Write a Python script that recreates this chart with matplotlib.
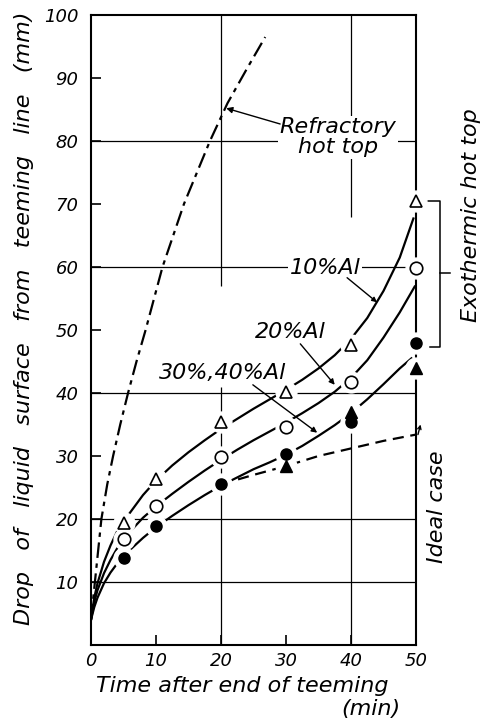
import matplotlib
matplotlib.use("Agg")
import matplotlib.pyplot as plt

plt.rcParams["font.family"] = ["DejaVu Sans"]
plt.rcParams["font.style"] = "italic"

# measured points
times = [5, 10, 20, 30, 40, 50]
al10 = [19.4, 26.3, 35.4, 40.2, 47.6, 70.5]
al20 = [16.8, 22.1, 29.8, 34.6, 41.7, 59.8]
al30 = [13.8, 18.9, 25.5, 30.3, 35.4, 47.9]
times40 = [30, 40, 50]
al40 = [28.4, 37.0, 44.0]

# fitted curves
c10_x = [0, 0.5, 1, 2, 3, 4, 5, 6, 8, 10, 12.5, 15, 17.5, 20, 22.5, 25, 27.5, 30, 32.5, 35, 37.5, 40, 42.5, 45, 47.5, 49.6]
c10_y = [4, 7.5, 9.8, 13.2, 15.8, 18.0, 19.6, 21.0, 23.8, 26.1, 28.5, 30.6, 32.5, 34.3, 35.9, 37.5, 39.0, 40.5, 42.1, 43.9, 46.0, 48.6, 51.9, 56.2, 61.5, 67.7]
c20_x = [0, 0.5, 1, 2, 3, 4, 5, 6, 8, 10, 12.5, 15, 17.5, 20, 22.5, 25, 27.5, 30, 32.5, 35, 37.5, 40, 42.5, 45, 47.5, 49.8]
c20_y = [4, 6.8, 8.7, 11.4, 13.5, 15.3, 16.8, 18.0, 20.2, 22.0, 24.0, 25.9, 27.7, 29.4, 31.0, 32.5, 33.9, 35.3, 36.8, 38.4, 40.2, 42.4, 45.2, 48.8, 52.8, 56.9]
c30_x = [0, 0.5, 1, 2, 3, 4, 5, 6, 8, 10, 12.5, 15, 17.5, 20, 22.5, 25, 27.5, 30, 32.5, 35, 37.5, 40, 42.5, 45, 47.5, 49.3]
c30_y = [4, 6.0, 7.5, 9.8, 11.5, 12.9, 14.0, 15.1, 17.0, 18.7, 20.5, 22.2, 23.8, 25.3, 26.6, 27.9, 29.0, 30.2, 31.6, 33.2, 34.9, 36.8, 39.0, 41.4, 43.9, 45.5]
ideal_x = [20, 25, 30, 35, 40, 45, 50]
ideal_y = [25.5, 27.0, 28.4, 30.0, 31.2, 32.4, 33.4]
refr_x = [0, 0.3, 0.6, 1.0, 1.6, 2.5, 3.4, 4.5, 5.7, 7.0, 8.4, 11.0, 14.3, 18.3, 21.0, 24.0, 26.8]
refr_y = [4, 7, 10, 14, 20, 25.5, 30, 35, 40, 45, 50, 60, 70, 80, 86, 91.5, 96.5]

xticks = [0, 10, 20, 30, 40, 50]
yticks = [10, 20, 30, 40, 50, 60, 70, 80, 90, 100]

fig = plt.figure(figsize=(4.84, 7.22), dpi=100)
ax = fig.add_axes([91 / 484, 77 / 722, 325 / 484, 630 / 722])
ax.set_xlim(0, 50)
ax.set_ylim(0, 100)

# grid, partly broken like the original
for y in [10, 20, 40, 60, 80]:
    ax.axhline(y, color="black", lw=0.9, zorder=1)
ax.vlines([20, 20], [0, 57], [41, 100], color="black", lw=0.9, zorder=1)
ax.vlines([40, 40], [0, 68], [34, 100], color="black", lw=0.9, zorder=1)

for s in ax.spines.values():
    s.set_linewidth(1.5)

ax.set_xticks(xticks)
ax.set_yticks(yticks)
ax.set_yticklabels([str(v) for v in yticks])
ax.tick_params(direction="in", length=7, width=1.2, labelsize=13)
ax.tick_params(axis="y", pad=9)
ax.tick_params(axis="x", pad=5)
ax.tick_params(top=False, right=False)

# curves
lw = 1.6
ax.plot(c10_x, c10_y, color="black", lw=lw, zorder=2)
ax.plot(c20_x, c20_y, color="black", lw=lw, zorder=2)
ax.plot(c30_x, c30_y, color="black", lw=lw, zorder=2)
ax.plot(ideal_x, ideal_y, color="black", lw=lw, dashes=(5, 3), zorder=2)
ax.plot(refr_x, refr_y, color="black", lw=lw, dashes=(7, 2.5, 2, 2.5), zorder=2)

# white halos so lines break at the markers
for xs, ys in [(times, al10), (times, al20), (times, al30), (times40, al40)]:
    ax.plot(xs, ys, "o", color="white", ms=15, zorder=3, clip_on=False)

ax.plot(times, al10, "^", mfc="white", mec="black", mew=1.2, ms=8, ls="none", zorder=4, clip_on=False)
ax.plot(times, al20, "o", mfc="white", mec="black", mew=1.2, ms=9, ls="none", zorder=4, clip_on=False)
ax.plot(times, al30, "o", color="black", ms=8, ls="none", zorder=5, clip_on=False)
ax.plot(times40, al40, "^", color="black", ms=8, ls="none", zorder=5, clip_on=False)

# labels in the plot
box = dict(facecolor="white", edgecolor="none", pad=1)
ax.text(38, 80.6, "Refractory\nhot top", ha="center", va="center", fontsize=16,
        linespacing=1.0, bbox=box, zorder=6)
ax.annotate("", xy=(20.8, 85.2), xytext=(29.1, 82.7),
            arrowprops=dict(arrowstyle="-|>", lw=1, color="black", shrinkA=0, shrinkB=0,
                            mutation_scale=9), zorder=6)
ax.text(36.0, 59.8, "10%Al", ha="center", va="center", fontsize=16, bbox=box, zorder=6)
ax.annotate("", xy=(44.0, 54.4), xytext=(39.4, 58.3),
            arrowprops=dict(arrowstyle="-|>", lw=1, color="black", shrinkA=0, shrinkB=0,
                            mutation_scale=7), zorder=6)
ax.text(30.6, 49.7, "20%Al", ha="center", va="center", fontsize=16, bbox=box, zorder=6)
ax.annotate("", xy=(37.5, 41.3), xytext=(32.2, 47.8),
            arrowprops=dict(arrowstyle="-|>", lw=1, color="black", shrinkA=0, shrinkB=0,
                            mutation_scale=8), zorder=6)
ax.text(20.2, 43.2, "30%,40%Al", ha="center", va="center", fontsize=16, bbox=box, zorder=6)
ax.annotate("", xy=(34.8, 33.7), xytext=(24.9, 41.3),
            arrowprops=dict(arrowstyle="-|>", lw=1, color="black", shrinkA=0, shrinkB=0,
                            mutation_scale=8), zorder=6)

# little arrow at the end of the ideal line
ax.annotate("", xy=(50.7, 35.0), xytext=(50.3, 33.4),
            arrowprops=dict(arrowstyle="->", lw=1, color="black", shrinkA=0, shrinkB=0,
                            mutation_scale=6), annotation_clip=False)
ax.text(53.2, 22.0, "Ideal case", rotation=90, ha="center", va="center", fontsize=16,
        clip_on=False)

# bracket for exothermic hot top
ax.plot([50.9, 53.7, 53.7, 52.2], [70.5, 70.5, 47.3, 47.3], color="black", lw=1.1, clip_on=False)
ax.plot([53.7, 55.2], [59.0, 59.0], color="black", lw=1.1, clip_on=False)
ax.text(58.4, 68.2, "Exothermic hot top", rotation=90, ha="center", va="center",
        fontsize=16, clip_on=False)

fig.text(24 / 484, 1 - 318 / 722, "Drop   of   liquid   surface   from   teeming   line   (mm)",
         rotation=90, ha="center", va="center", fontsize=16)
fig.text(242 / 484, 1 - 686 / 722, "Time after end of teeming", ha="center", va="center",
         fontsize=16)
fig.text(371 / 484, 1 - 709 / 722, "(min)", ha="center", va="center", fontsize=16)

fig.savefig("out.png", dpi=100)
